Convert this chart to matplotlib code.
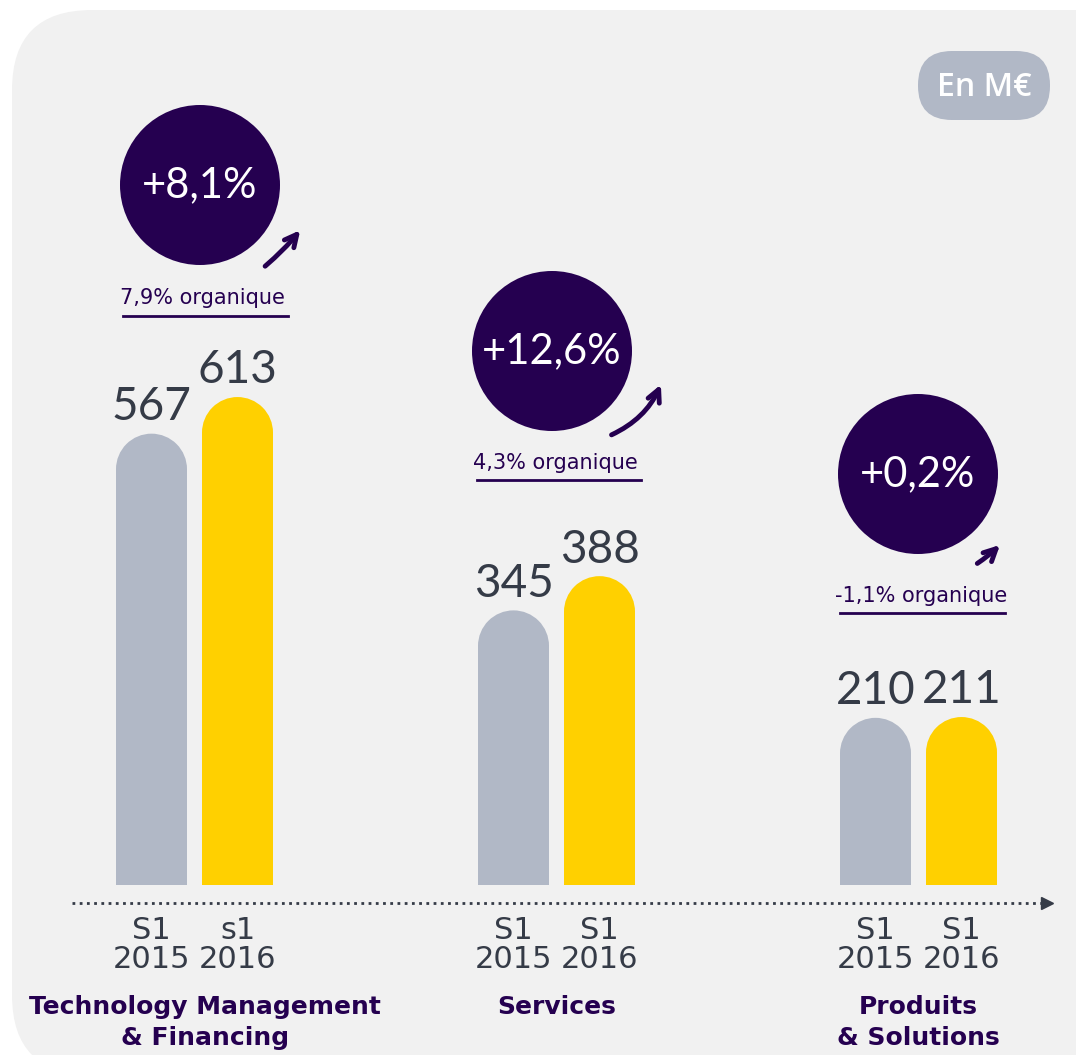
import matplotlib.pyplot as plt
from matplotlib.patches import FancyBboxPatch, Circle, Ellipse

# data
segments = ['Technology Management\n& Financing', 'Services', 'Produits\n& Solutions']
s1_2015 = [567, 345, 210]
s1_2016 = [613, 388, 211]
period_labels = [['S1\n2015', 's1\n2016'], ['S1\n2015', 'S1\n2016'], ['S1\n2015', 'S1\n2016']]
growth = ['+8,1%', '+12,6%', '+0,2%']
organic = ['7,9% organique', '4,3% organique', '-1,1% organique']

purple = '#250050'
grey_bar = '#b1b8c6'
yellow = '#ffd000'
txt_grey = '#353b47'
bg = '#f1f1f1'

W, H = 1076, 1055
fig = plt.figure(figsize=(W / 100, H / 100), dpi=100)
fig.patch.set_facecolor('white')

# pixel overlay for decoration
deco = fig.add_axes([0, 0, 1, 1])
deco.set_xlim(0, W)
deco.set_ylim(H, 0)
deco.axis('off')
deco.add_patch(FancyBboxPatch((12, 10), 1200, 1065, boxstyle='round,pad=0,rounding_size=80',
                              fc=bg, ec='none', zorder=0))

# "En M€" badge
deco.add_patch(FancyBboxPatch((918, 51), 132, 69, boxstyle='round,pad=0,rounding_size=34',
                              fc=grey_bar, ec='none', zorder=2))
deco.text(984, 87, 'En M€', color='white', fontsize=23, fontweight='semibold',
          ha='center', va='center', family='Open Sans', zorder=3)

# growth bubbles
circ_xy = [(200, 185), (552, 351), (918, 474)]
arrow_pts = [((263, 268), (302, 228)), ((609, 436), (662, 382)), ((975, 565), (1002, 543))]
org_xy = [(202, 298), (555, 463), (921, 596)]
ul = [(123, 288, 316), (477, 641, 480), (840, 1005, 613)]
for i in range(3):
    cx, cy = circ_xy[i]
    deco.add_patch(Circle((cx, cy), 80, fc=purple, ec='none', zorder=2))
    deco.text(cx, cy, growth[i], color='white', fontsize=30,
              family=['Lato', 'DejaVu Sans'], ha='center', va='center', zorder=3)
    (x0, y0), (x1, y1) = arrow_pts[i]
    deco.annotate('', xy=(x1, y1), xytext=(x0, y0),
                  arrowprops=dict(arrowstyle='->', lw=3.5, color=purple, mutation_scale=22,
                                  connectionstyle='arc3,rad=0.2' if i == 1 else 'arc3,rad=0.05'))
    ox, oy = org_xy[i]
    deco.text(ox, oy, organic[i], color=purple, fontsize=15, ha='center', va='center')
    a, b, y = ul[i]
    deco.plot([a, b], [y, y], color=purple, lw=2)

# dotted axis with arrow head
deco.plot([72, 1044], [903, 903], color=txt_grey, lw=2, linestyle=(0, (1, 1.6)))
deco.plot([1047], [903], marker='>', color=txt_grey, markersize=8)

# bar axes (value scale)
base_px = 885
k = 0.796  # px per M€
ax = fig.add_axes([0, (H - base_px) / H, 1, base_px / H])
ax.patch.set_alpha(0)
ax.set_xlim(-194.5 / 362, (W - 194.5) / 362)
ax.set_ylim(0, base_px / k)
for s in ax.spines.values():
    s.set_visible(False)
ax.set_yticks([])

off = 43 / 362
bw = 71 / 362
r_val = 35.5 / k
xt, xl = [], []
for i in range(3):
    for j, (vals, col) in enumerate([(s1_2015, grey_bar), (s1_2016, yellow)]):
        x = i + (-off if j == 0 else off)
        v = vals[i]
        ax.bar(x, v - r_val, width=bw, color=col, zorder=2)
        ax.add_patch(Ellipse((x, v - r_val), bw, 2 * r_val, fc=col, ec='none', zorder=2))
        ax.annotate(str(v), (x, v), xytext=(0, 4), textcoords='offset points',
                    ha='center', va='bottom', fontsize=33,
                    family=['Lato', 'DejaVu Sans'], color=txt_grey)
        xt.append(x)
        xl.append(period_labels[i][j])
ax.set_xticks(xt)
ax.set_xticklabels(xl, fontsize=22, color=txt_grey, linespacing=1.0)
ax.tick_params(axis='x', length=0, pad=22)

for i, name in enumerate(segments):
    ax.text(i + (0.03 if i == 0 else 0), -110 / k, name, ha='center', va='top', color=purple,
            fontsize=18, fontweight='bold', linespacing=1.38)

fig.savefig('out.png', dpi=100, facecolor=fig.get_facecolor())
